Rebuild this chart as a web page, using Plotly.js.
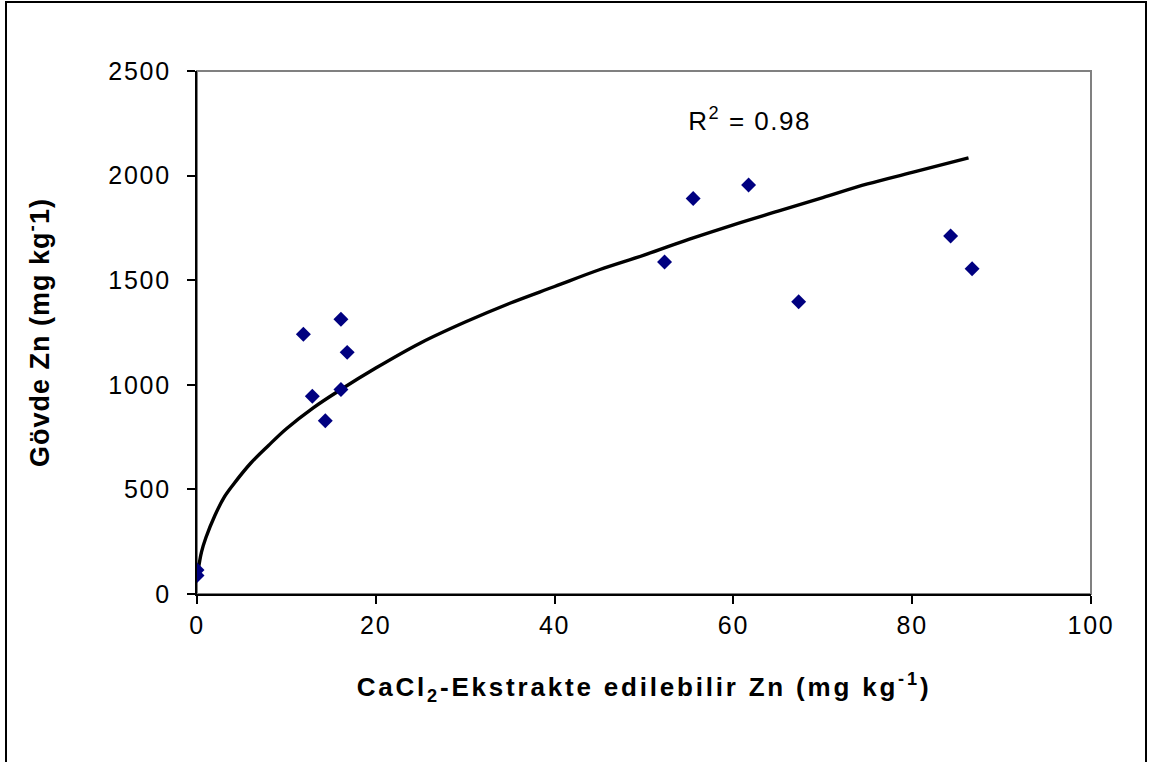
<!DOCTYPE html>
<html>
<head>
<meta charset="utf-8">
<script src="https://cdn.plot.ly/plotly-3.0.1.min.js"></script>
<style>
  html, body { margin: 0; padding: 0; background: #ffffff; }
  #wrap { position: relative; width: 1153px; height: 762px; overflow: hidden; }
  #frame { position: absolute; left: 5px; top: 1px; width: 1142px; height: 800px; border: 2px solid #000; box-sizing: border-box; pointer-events: none; }
  #chart { position: absolute; left: 0; top: 0; width: 1153px; height: 762px; }
  #chart .xtick text, #chart .ytick text { letter-spacing: 1.8px; }
  #chart .g-xtitle text { letter-spacing: 2.8px; }
  #chart .g-ytitle text { letter-spacing: 1px; }
  #chart .annotation-text { letter-spacing: 1.5px; }
</style>
</head>
<body>
<div id="wrap">
  <div id="chart"></div>
  <div id="frame"></div>
</div>
<script>
// Observed data (CaCl2-extractable Zn vs shoot Zn)
const extractZn = [0, 0, 11.9, 12.9, 14.35, 16.1, 16.1, 16.8, 52.3, 55.5, 61.7, 67.3, 84.3, 86.7];
const shootZn   = [115, 88, 1242, 945, 828, 1313, 978, 1155, 1587, 1891, 1955, 1397, 1711, 1555];

// Trend line
const trendX = [0.1, 0.5, 1, 2, 3, 4, 6, 8, 10, 13, 16, 20, 25, 30, 35, 40, 45, 50, 55, 60, 65, 70, 75, 80, 86.3];
const trendY = [105, 200, 270, 375, 460, 520, 625, 710, 790, 890, 975, 1080, 1200, 1300, 1390, 1470, 1550, 1620, 1695, 1765, 1830, 1895, 1960, 2015, 2085];

const xTicks = [0, 20, 40, 60, 80, 100];
const yTicks = [0, 500, 1000, 1500, 2000, 2500];

const rsqLabel = "R<sup>2</sup> = 0.98";

const FONT = "Liberation Sans, Arial, Helvetica, sans-serif";

const traces = [
  {
    x: trendX, y: trendY, type: "scatter", mode: "lines",
    line: { color: "#000000", width: 3.4, shape: "spline" },
    hoverinfo: "skip", showlegend: false
  },
  {
    x: extractZn, y: shootZn, type: "scatter", mode: "markers",
    marker: { symbol: "diamond", size: 11.5, color: "#000080", line: { width: 0 } },
    showlegend: false
  }
];

const layout = {
  width: 1153, height: 762,
  margin: { l: 197, r: 62, t: 71, b: 168, pad: 0 },
  paper_bgcolor: "#ffffff", plot_bgcolor: "#ffffff",
  font: { family: FONT, color: "#000000", size: 25 },
  showlegend: false,
  xaxis: {
    range: [0, 100], tickvals: xTicks, ticktext: xTicks.map(String),
    showgrid: false, zeroline: false,
    showline: true, linecolor: "#000000", linewidth: 2,
    ticks: "outside", ticklen: 8, tickwidth: 2, tickcolor: "#000000",
    tickfont: { family: FONT, size: 25, color: "#000000" },
    ticklabelstandoff: 0,
    title: { text: "<b>CaCl<sub>2</sub>-Ekstrakte edilebilir Zn (mg kg<sup>-1</sup>)</b>",
             font: { family: FONT, size: 26, color: "#000000" }, standoff: 40 }
  },
  yaxis: {
    range: [0, 2500], tickvals: yTicks, ticktext: yTicks.map(String),
    showgrid: false, zeroline: false,
    showline: true, linecolor: "#000000", linewidth: 2,
    ticks: "outside", ticklen: 8, tickwidth: 2, tickcolor: "#000000",
    tickfont: { family: FONT, size: 25, color: "#000000" },
    ticklabelstandoff: 11,
    title: { text: "<b>Gövde Zn (mg kg<sup>-</sup>1)</b>",
             font: { family: FONT, size: 27, color: "#000000" }, standoff: 58 }
  },
  shapes: [
    { type: "rect", xref: "paper", yref: "paper", x0: 0, y0: 0, x1: 1, y1: 1,
      line: { color: "#808080", width: 2 }, layer: "below" }
  ],
  annotations: [
    { x: 55.5, y: 2270, xref: "x", yref: "y", text: rsqLabel, showarrow: false,
      xanchor: "left", yanchor: "middle",
      font: { family: FONT, size: 26, color: "#000000" } }
  ]
};

Plotly.newPlot("chart", traces, layout, { displayModeBar: false, staticPlot: true });
</script>
</body>
</html>
